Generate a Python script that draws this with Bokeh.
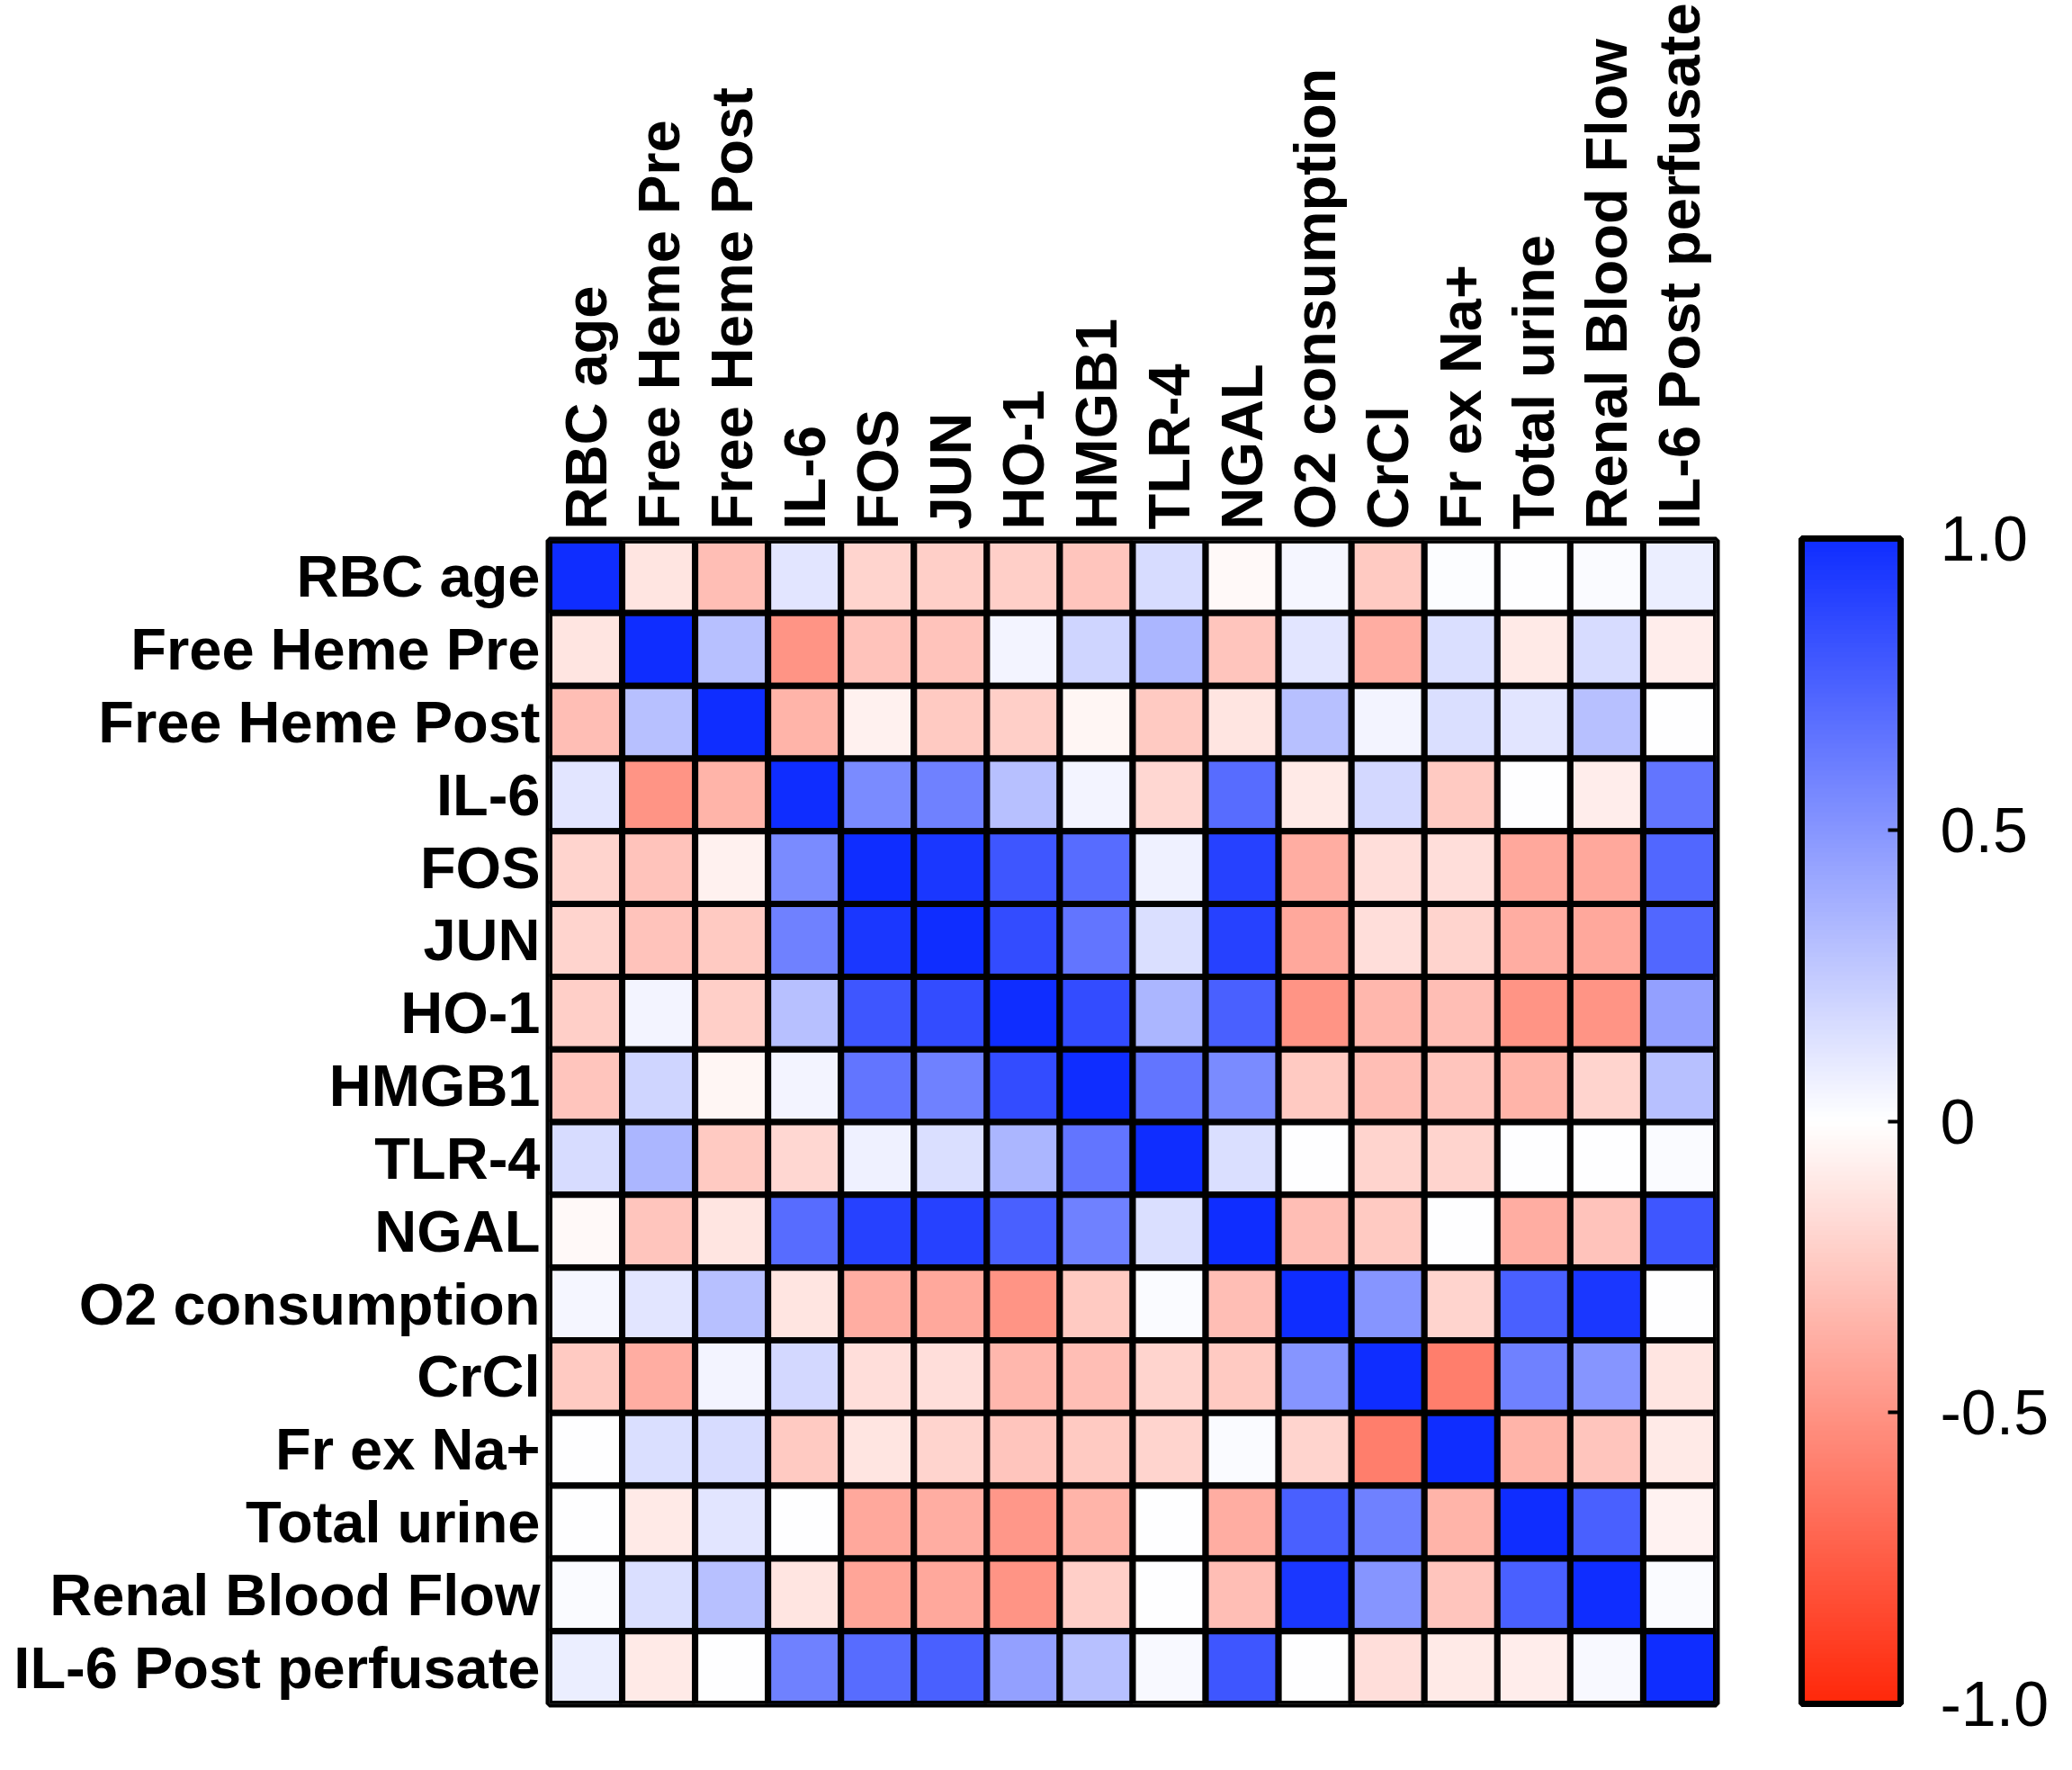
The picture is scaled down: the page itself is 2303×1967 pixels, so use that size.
import numpy as np
from bokeh.plotting import figure
from bokeh.models import (ColumnDataSource, FactorRange, LinearColorMapper, ColorBar,
                          FixedTicker, CustomJSTickFormatter)
from bokeh.transform import transform
from bokeh.embed import file_html
from bokeh.resources import INLINE

names = ["RBC age", "Free Heme Pre", "Free Heme Post", "IL-6", "FOS", "JUN", "HO-1",
         "HMGB1", "TLR-4", "NGAL", "O2 consumption", "CrCl", "Fr ex Na+", "Total urine",
         "Renal Blood Flow", "IL-6 Post perfusate"]

r_rbc_age = [1.00, -0.12, -0.30, 0.12, -0.20, -0.22, -0.22, -0.27, 0.17, -0.03, 0.04, -0.25, 0.01, 0.00, 0.02, 0.08]
r_heme_pre = [-0.12, 1.00, 0.30, -0.50, -0.28, -0.28, 0.05, 0.20, 0.35, -0.27, 0.12, -0.38, 0.15, -0.10, 0.17, -0.08]
r_heme_post = [-0.30, 0.30, 1.00, -0.35, -0.07, -0.25, -0.22, -0.04, -0.25, -0.12, 0.30, 0.05, 0.15, 0.12, 0.30, 0.00]
r_il6 = [0.12, -0.50, -0.35, 1.00, 0.55, 0.60, 0.30, 0.05, -0.18, 0.70, -0.10, 0.18, -0.25, 0.00, -0.08, 0.65]
r_fos = [-0.20, -0.28, -0.07, 0.55, 1.00, 0.95, 0.80, 0.70, 0.07, 0.90, -0.38, -0.15, -0.15, -0.40, -0.40, 0.72]
r_jun = [-0.20, -0.28, -0.25, 0.60, 0.95, 1.00, 0.85, 0.65, 0.15, 0.90, -0.40, -0.15, -0.20, -0.38, -0.40, 0.72]
r_ho1 = [-0.22, 0.05, -0.22, 0.30, 0.80, 0.85, 1.00, 0.85, 0.35, 0.75, -0.50, -0.33, -0.30, -0.50, -0.50, 0.45]
r_hmgb1 = [-0.27, 0.20, -0.04, 0.05, 0.65, 0.60, 0.85, 1.00, 0.65, 0.55, -0.25, -0.30, -0.27, -0.35, -0.20, 0.30]
r_tlr4 = [0.17, 0.35, -0.25, -0.18, 0.07, 0.15, 0.35, 0.65, 1.00, 0.15, 0.00, -0.20, -0.20, 0.00, 0.00, 0.02]
r_ngal = [-0.03, -0.27, -0.12, 0.70, 0.90, 0.90, 0.75, 0.60, 0.15, 1.00, -0.30, -0.25, 0.00, -0.38, -0.28, 0.80]
r_o2 = [0.04, 0.12, 0.30, -0.12, -0.38, -0.40, -0.50, -0.25, 0.02, -0.30, 1.00, 0.50, -0.20, 0.75, 0.95, 0.00]
r_crcl = [-0.25, -0.38, 0.05, 0.18, -0.15, -0.15, -0.33, -0.30, -0.20, -0.25, 0.50, 1.00, -0.60, 0.60, 0.50, -0.12]
r_frexna = [0.00, 0.15, 0.17, -0.25, -0.12, -0.20, -0.27, -0.25, -0.20, 0.02, -0.20, -0.60, 1.00, -0.35, -0.27, -0.10]
r_urine = [0.00, -0.10, 0.12, 0.00, -0.40, -0.38, -0.48, -0.35, 0.00, -0.38, 0.75, 0.60, -0.35, 1.00, 0.75, -0.06]
r_rbf = [0.02, 0.15, 0.30, -0.12, -0.42, -0.40, -0.50, -0.22, 0.00, -0.30, 0.95, 0.50, -0.27, 0.75, 1.00, 0.02]
r_il6post = [0.08, -0.10, 0.00, 0.60, 0.70, 0.75, 0.45, 0.30, 0.03, 0.80, 0.00, -0.15, -0.10, -0.08, 0.03, 1.00]

rows = [r_rbc_age, r_heme_pre, r_heme_post, r_il6, r_fos, r_jun, r_ho1, r_hmgb1, r_tlr4,
        r_ngal, r_o2, r_crcl, r_frexna, r_urine, r_rbf, r_il6post]

cbar_ticks = [-1.0, -0.5, 0.0, 0.5, 1.0]

# palette: red (-1) -> white (0) -> blue (+1)
red = np.array([255, 40, 10], float)
white = np.array([255, 255, 255], float)
blue = np.array([15, 45, 255], float)
palette = []
for t in np.linspace(-1, 1, 256):
    c = white + (red - white) * (-t) if t < 0 else white + (blue - white) * t
    palette.append("#%02x%02x%02x" % tuple(int(round(v)) for v in c))

xs, ys, vs = [], [], []
for i, row in enumerate(rows):
    for j, v in enumerate(row):
        xs.append(names[j]); ys.append(names[i]); vs.append(v)
source = ColumnDataSource(dict(x=xs, y=ys, v=vs))

mapper = LinearColorMapper(palette=palette, low=-1, high=1)

x_range = FactorRange(factors=names, range_padding=0)
y_range = FactorRange(factors=list(reversed(names)), range_padding=0)

p = figure(width=2287, height=1951, x_range=x_range, y_range=y_range,
           x_axis_location="above", output_backend="svg", toolbar_location=None,
           min_border_left=610, min_border_top=598, min_border_bottom=58, min_border_right=380)

p.rect(x="x", y="y", width=1, height=1, source=source,
       fill_color=transform("v", mapper), line_color="black", line_width=7)

p.outline_line_color = "black"
p.outline_line_width = 8
p.grid.visible = False
p.background_fill_color = "white"
p.border_fill_color = "white"

for ax in (p.xaxis[0], p.yaxis[0]):
    ax.axis_line_color = None
    ax.major_tick_line_color = None
    ax.minor_tick_line_color = None
    ax.major_label_text_font = "Liberation Sans"
    ax.major_label_text_font_style = "bold"
    ax.major_label_text_font_size = "65px"
    ax.major_label_text_color = "black"
p.yaxis.major_label_standoff = 4
p.xaxis.major_label_standoff = 6
p.xaxis.major_label_orientation = "vertical"

cb = ColorBar(color_mapper=mapper, width=110, height=1295, location=(95, 0),
              margin=0, padding=0,
              ticker=FixedTicker(ticks=cbar_ticks),
              formatter=CustomJSTickFormatter(code="return tick == 0 ? '0' : tick.toFixed(1);"),
              bar_line_color="black", bar_line_width=7,
              major_tick_line_color="black", major_tick_line_width=4,
              major_tick_in=14, major_tick_out=0,
              minor_tick_line_color=None,
              major_label_text_font="Liberation Sans",
              major_label_text_font_size="70px",
              major_label_text_color="black",
              label_standoff=44,
              border_line_color=None, background_fill_color=None)
p.add_layout(cb, "right")

open("out.html", "w").write(file_html(p, INLINE))
